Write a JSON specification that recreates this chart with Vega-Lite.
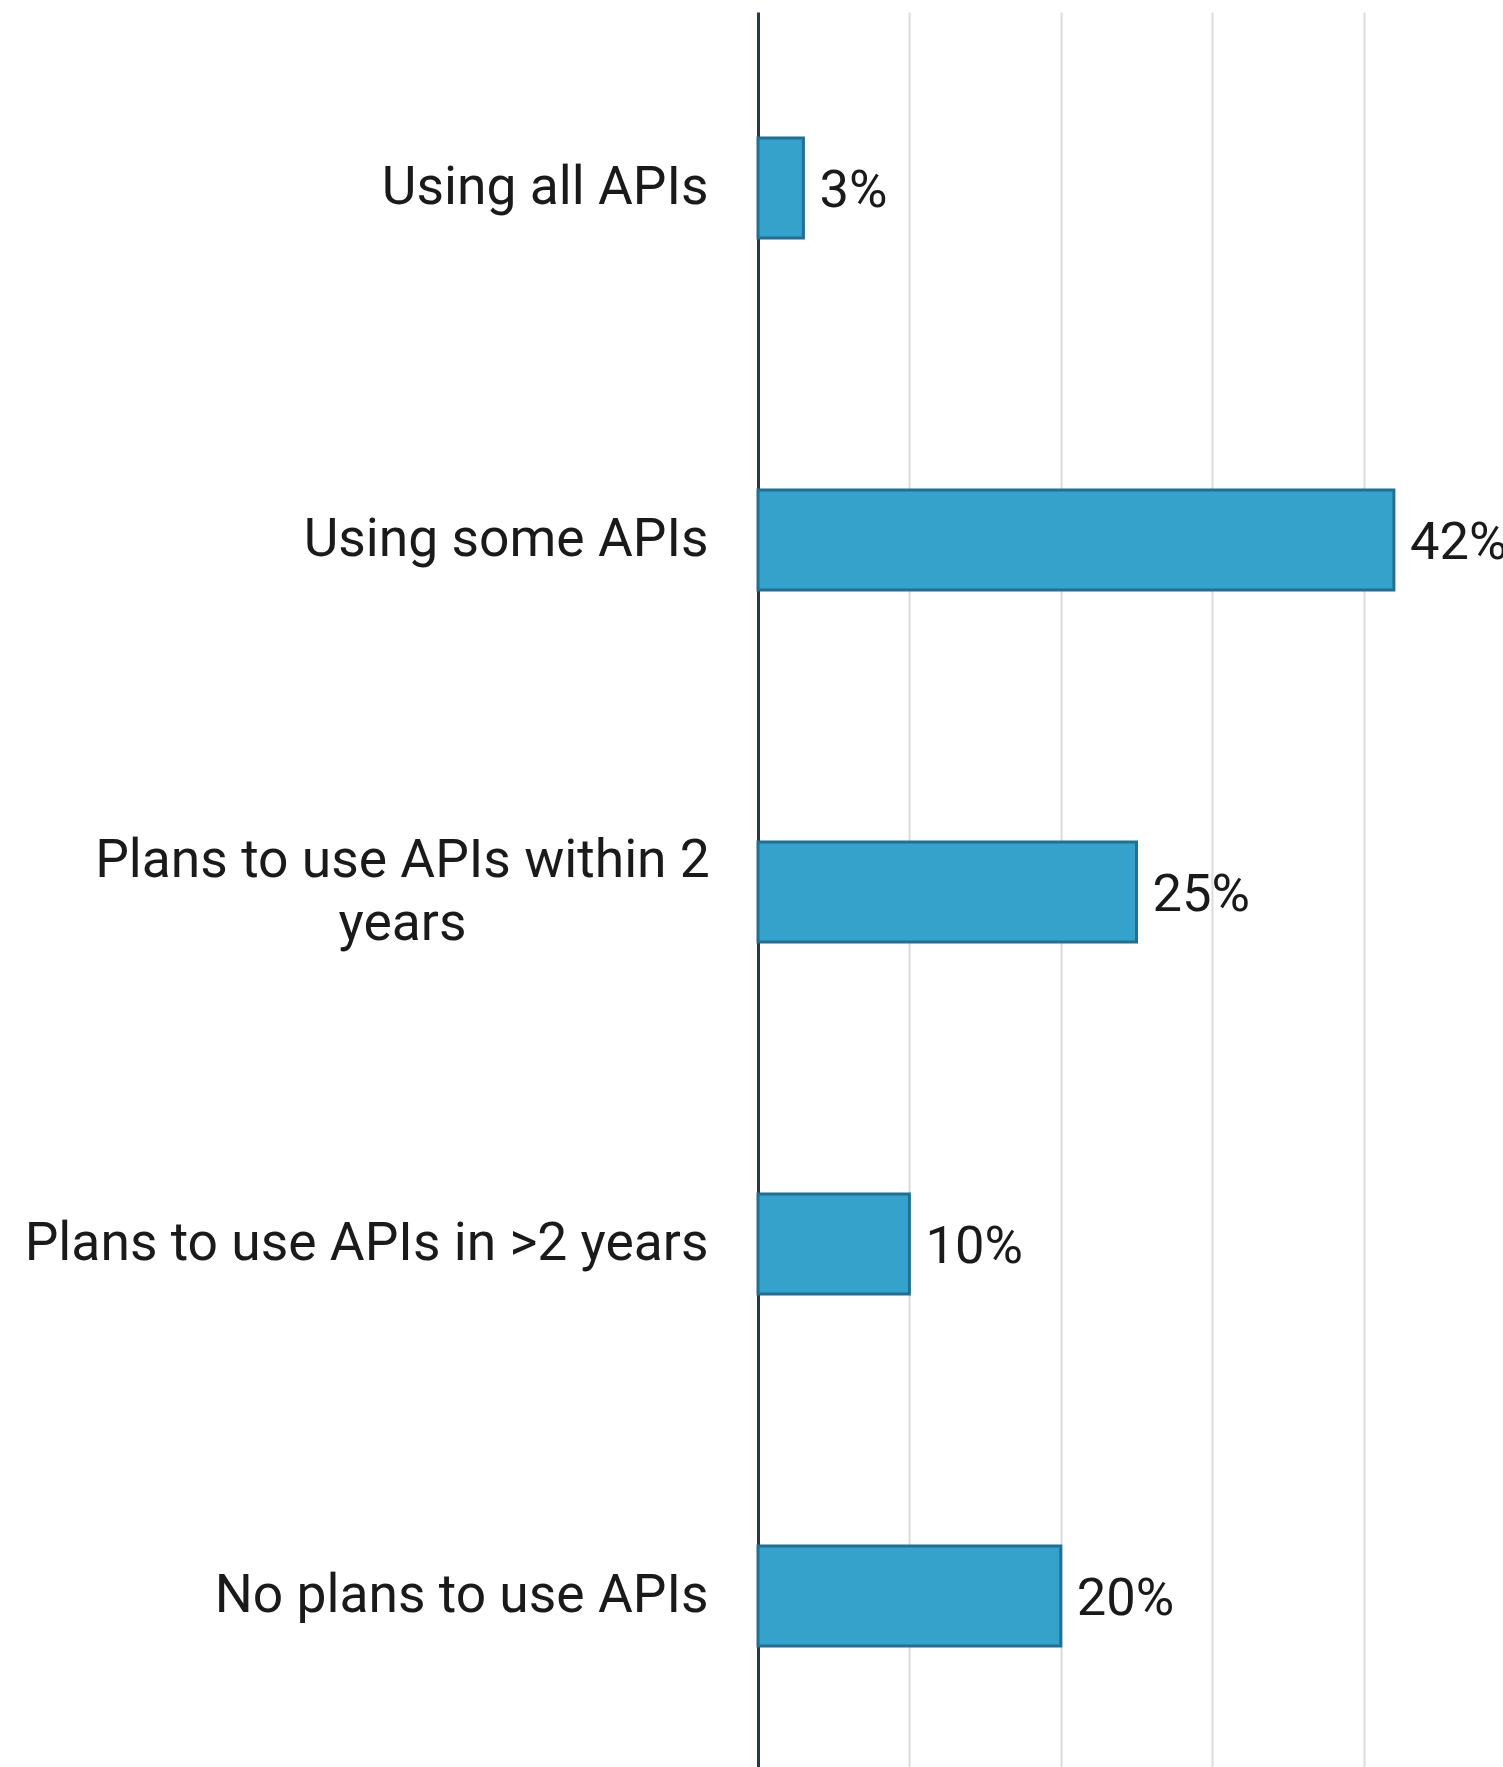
{
  "$schema": "https://vega.github.io/schema/vega-lite/v6.json",
  "autosize": {"type": "none"},
  "padding": {"left": 758, "top": 12, "right": 0, "bottom": 0},
  "width": 757,
  "height": 1760,
  "background": "white",
  "config": {"view": {"stroke": null}, "font": "Roboto"},
  "data": {"values": [
    {"label": "Using all APIs", "value": 3},
    {"label": "Using some APIs", "value": 42},
    {"label": "Plans to use APIs within 2 years", "value": 25},
    {"label": "Plans to use APIs in >2 years", "value": 10},
    {"label": "No plans to use APIs", "value": 20}
  ]},
  "transform": [{"calculate": "datum.value + '%'", "as": "valueText"}],
  "encoding": {
    "y": {
      "field": "label", "type": "nominal", "sort": null, "title": null,
      "scale": {"paddingInner": 0.716, "paddingOuter": 0.358},
      "axis": {
        "ticks": false,
        "domain": true, "domainColor": "#27364a", "domainWidth": 3,
        "labelFont": "Roboto", "labelFontSize": 53.4, "labelColor": "#1a1a1a",
        "labelLimit": 800, "labelLineHeight": 63,
        "labelExpr": "datum.label == 'Plans to use APIs within 2 years' ? ['Plans to use APIs within 2', 'years'] : datum.label",
        "labelAlign": {"condition": {"test": "datum.value == 'Plans to use APIs within 2 years'", "value": "center"}, "value": "right"},
        "labelPadding": {"condition": {"test": "datum.value == 'Plans to use APIs within 2 years'", "value": 356}, "value": 50},
        "labelOffset": {"condition": {"test": "datum.value == 'Plans to use APIs within 2 years'", "value": -31}, "value": 0},
        "grid": false
      }
    },
    "x": {
      "field": "value", "type": "quantitative",
      "scale": {"domain": [0, 50]},
      "axis": {
        "title": null, "labels": false, "ticks": false, "domain": false,
        "values": [10, 20, 30, 40, 50],
        "grid": true, "gridColor": "#dcdcdc", "gridWidth": 2
      }
    }
  },
  "layer": [
    {"mark": {"type": "bar", "fill": "#35a2cb", "stroke": "#22708f", "strokeWidth": 3}},
    {
      "mark": {"type": "text", "align": "left", "baseline": "middle", "dx": 16, "dy": 3, "font": "Roboto", "fontSize": 52.5, "color": "#1a1a1a"},
      "encoding": {"text": {"field": "valueText", "type": "nominal"}}
    }
  ]
}
